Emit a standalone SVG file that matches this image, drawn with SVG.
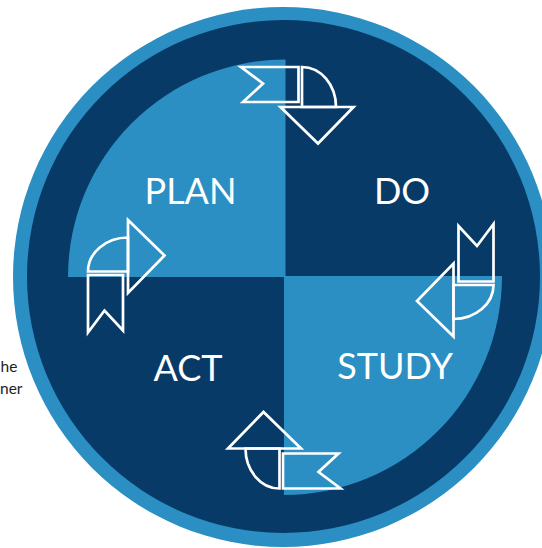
<svg xmlns="http://www.w3.org/2000/svg" width="542" height="548" viewBox="0 0 542 548">
<style>
.light{fill:#2b8fc4}
.dark{fill:#083a68}
.lbl{font-family:Lato,"Liberation Sans",sans-serif;font-size:36px;fill:#ffffff;text-anchor:middle}
.side{font-family:Lato,"Liberation Sans",sans-serif;font-size:15.5px;fill:#222222}
.arw{fill:none;stroke:#ffffff;stroke-width:2.7;stroke-linejoin:miter}
</style>
<defs>
<g id="arrow">
<path class="arw" d="M-61,-40 L-3.5,-40 L-3.5,-5 L-59,-5 L-39,-23.5 Z"/>
<path class="arw" d="M0,0 L0,-40 A34,40 0 0 1 34,0 Z"/>
<path class="arw" d="M-21.5,0 L51.5,0 L16,36.5 Z"/>
</g>
</defs>
<rect width="542" height="548" fill="#ffffff"/>
<g id="side-text">
<text class="side" x="0.5" y="371.5">he</text>
<text class="side" x="0" y="394">ner</text>
</g>
<g id="ring">
<circle class="light" cx="283" cy="277" r="270"/>
<circle class="dark" cx="283.5" cy="276.5" r="256.5"/>
</g>
<g id="plan">
<path class="light" d="M285.5,277 L68,277 A217.5,217.5 0 0 1 285.5,59.5 Z"/>
<text class="lbl" x="190.5" y="203.5">PLAN</text>
</g>
<g id="do">
<text class="lbl" x="402" y="203.5">DO</text>
</g>
<g id="study">
<path class="light" d="M284,276 L502,276 A218,219 0 0 1 284,495 Z"/>
<text class="lbl" x="395" y="378.5">STUDY</text>
</g>
<g id="act">
<text class="lbl" x="188" y="381">ACT</text>
</g>
<g id="connectors">
<use href="#arrow" transform="matrix(1 0 0 1 302 107)"/>
<use href="#arrow" transform="matrix(0 1 -1 0 453.5 285)"/>
<use href="#arrow" transform="matrix(-1 0 0 -1 279.5 448.5)"/>
<use href="#arrow" transform="matrix(0 -1 1 0 128 271.5)"/>
</g>
</svg>
